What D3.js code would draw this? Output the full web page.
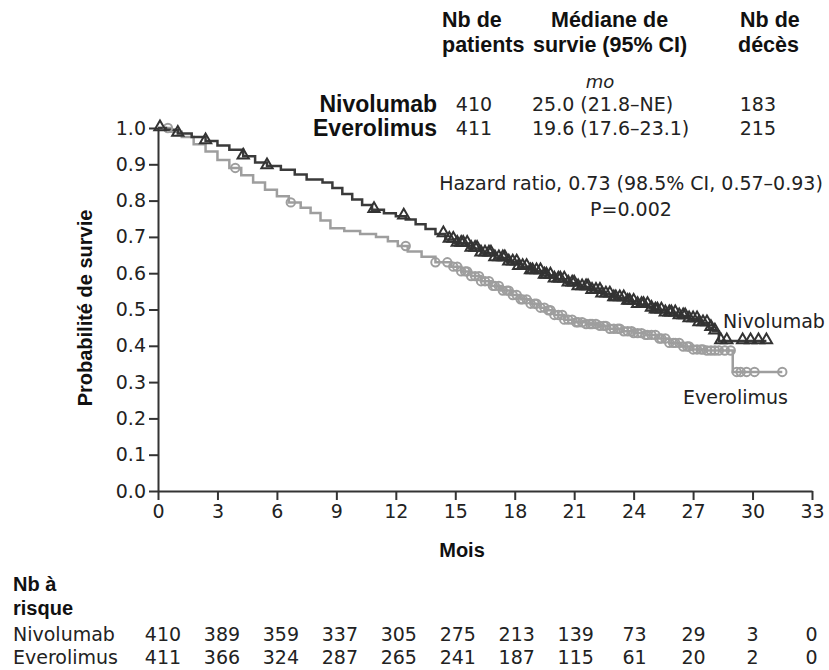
<!DOCTYPE html>
<html>
<head>
<meta charset="utf-8">
<title></title>
<script src="https://d3js.org/d3.v7.min.js"></script>
<style type="text/css">
  body {margin: 0; background: #fff;}
  .reg {font-family: "DejaVu Sans", sans-serif; fill: #222;}
  .bold {font-family: "Liberation Sans", Arial, sans-serif; font-weight: bold; fill: #111;}
  .axis path, .axis line {stroke: #333; stroke-width: 2px;}
  .axis text {font-family: "DejaVu Sans", sans-serif; font-size: 19px; fill: #222;}
</style>
</head>
<body>
<div id="chart"></div>
<script>
// Kaplan-Meier steps (months, survival)
var nivoTime = [0, 0.4, 1.0, 1.7, 2.4, 3.0, 3.6, 4.3, 4.9, 5.5, 6.2, 6.9, 7.5, 8.3, 8.8, 9.3, 9.8, 10.3, 10.8, 11.4,
                12.0, 12.5, 13.0, 13.5, 14.0, 14.5, 15.0, 15.7, 16.3, 17.0, 17.6, 18.2, 18.8, 19.4, 20.0, 20.6,
                21.2, 21.8, 22.4, 23.0, 23.6, 24.2, 24.8, 25.0, 25.6, 26.2, 26.8, 27.3, 27.8, 28.0, 28.3, 30.7];
var nivoSurv = [1.0, 0.995, 0.985, 0.975, 0.964, 0.952, 0.94, 0.922, 0.905, 0.895, 0.885, 0.872, 0.858, 0.85, 0.835,
                0.818, 0.803, 0.788, 0.775, 0.765, 0.757, 0.748, 0.735, 0.722, 0.708, 0.693, 0.682, 0.668, 0.655,
                0.642, 0.63, 0.618, 0.606, 0.594, 0.583, 0.572, 0.562, 0.552, 0.542, 0.532, 0.522, 0.513, 0.503,
                0.498, 0.49, 0.482, 0.474, 0.463, 0.45, 0.44, 0.413, 0.413];
var everoTime = [0, 0.6, 1.2, 1.8, 2.4, 3.0, 3.6, 4.2, 4.8, 5.4, 6.0, 6.6, 7.2, 7.7, 8.2, 8.7, 9.4, 10.2, 11.0, 11.6,
                 12.1, 12.6, 13.3, 14.0, 14.8, 15.3, 15.8, 16.3, 16.8, 17.3, 17.8, 18.3, 18.8, 19.3, 19.6, 20.0,
                 20.5, 21.0, 21.6, 22.2, 22.8, 23.4, 24.0, 24.6, 25.2, 25.8, 26.4, 27.0, 27.6, 29.0, 31.5];
var everoSurv = [1.0, 0.99, 0.975, 0.955, 0.935, 0.912, 0.89, 0.87, 0.85, 0.83, 0.812, 0.795, 0.78, 0.766, 0.745,
                 0.724, 0.716, 0.708, 0.70, 0.688, 0.675, 0.66, 0.645, 0.63, 0.618, 0.605, 0.592, 0.578, 0.565,
                 0.552, 0.54, 0.528, 0.516, 0.505, 0.498, 0.485, 0.472, 0.465, 0.46, 0.455, 0.447, 0.44, 0.435,
                 0.43, 0.42, 0.408, 0.398, 0.39, 0.387, 0.328, 0.328];
// censoring marks (months)
var nivoCensor = [0.1, 1.0, 2.4, 4.3, 5.5, 10.9, 12.4, 14.4, 14.7, 14.9, 15.1, 15.3, 15.4, 15.6, 15.8, 16.0, 16.1,
                  16.3, 16.5, 16.7, 16.8, 17.0, 17.2, 17.4, 17.5, 17.7, 17.9, 18.1, 18.2, 18.4, 18.6, 18.8, 18.9,
                  19.1, 19.3, 19.5, 19.6, 19.8, 20.0, 20.2, 20.3, 20.5, 20.7, 20.9, 21.0, 21.2, 21.4, 21.6, 21.7,
                  21.9, 22.1, 22.3, 22.4, 22.6, 22.8, 23.0, 23.1, 23.3, 23.5, 23.7, 23.8, 24.0, 24.2, 24.4, 24.5,
                  24.7, 24.9, 25.1, 25.2, 25.4, 25.6, 25.8, 25.9, 26.1, 26.3, 26.5, 26.6, 26.8, 27.0, 27.2, 27.3,
                  27.5, 27.7, 27.9, 28.1, 28.4, 28.7, 29.5, 29.9, 30.3, 30.7];
var everoCensor = [0.5, 3.9, 6.7, 12.5, 14.0, 14.6, 14.9, 15.1, 15.3, 15.5, 15.6, 15.8, 16.0, 16.2, 16.3, 16.5,
                   16.7, 16.9, 17.0, 17.2, 17.4, 17.6, 17.7, 17.9, 18.1, 18.3, 18.4, 18.6, 18.8, 19.0, 19.1, 19.3,
                   19.5, 19.7, 19.8, 20.0, 20.2, 20.4, 20.5, 20.7, 20.9, 21.1, 21.2, 21.4, 21.6, 21.8, 21.9, 22.1,
                   22.3, 22.5, 22.6, 22.8, 23.0, 23.2, 23.3, 23.5, 23.7, 23.9, 24.0, 24.2, 24.4, 24.6, 24.7, 24.9,
                   25.1, 25.3, 25.4, 25.6, 25.8, 26.0, 26.1, 26.3, 26.5, 26.7, 26.8, 27.0, 27.2, 27.4, 27.5, 27.7,
                   27.9, 28.1, 28.3, 28.6, 28.9, 29.2, 29.4, 29.7, 30.1, 31.5];
// number at risk
var riskMonths = [0, 3, 6, 9, 12, 15, 18, 21, 24, 27, 30, 33];
var nivoRisk = [410, 389, 359, 337, 305, 275, 213, 139, 73, 29, 3, 0];
var everoRisk = [411, 366, 324, 287, 265, 241, 187, 115, 61, 20, 2, 0];
var xTicks = [0, 3, 6, 9, 12, 15, 18, 21, 24, 27, 30, 33];
var yTicks = [0, 0.1, 0.2, 0.3, 0.4, 0.5, 0.6, 0.7, 0.8, 0.9, 1.0];

var width = 829, height = 670;
var svg = d3.select("#chart").append("svg")
  .attr("width", width)
  .attr("height", height);

var x = d3.scaleLinear().domain([0, 33]).range([158, 812]);
var y = d3.scaleLinear().domain([0, 1]).range([491, 128]);

// axes
svg.append("g")
  .attr("class", "axis")
  .attr("transform", "translate(0," + y(0) + ")")
  .call(d3.axisBottom(x).tickValues(xTicks).tickSize(9).tickSizeOuter(0).tickPadding(5));
svg.append("g")
  .attr("class", "axis")
  .attr("transform", "translate(" + x(0) + ",0)")
  .call(d3.axisLeft(y).tickValues(yTicks).tickFormat(d3.format(".1f")).tickSize(9).tickSizeOuter(0).tickPadding(3));

function stepAt(times, surv, t) {
  var i = d3.bisectRight(times, t) - 1;
  return surv[Math.max(0, i)];
}

function drawCurve(times, surv, color) {
  var pts = times.map(function(t, i) { return [t, surv[i]]; });
  svg.append("path")
    .datum(pts)
    .attr("fill", "none")
    .attr("stroke", color)
    .attr("stroke-width", 2.5)
    .attr("d", d3.line()
      .curve(d3.curveStepAfter)
      .x(function(d) { return x(d[0]); })
      .y(function(d) { return y(d[1]); }));
}

drawCurve(everoTime, everoSurv, "#9e9e9e");
drawCurve(nivoTime, nivoSurv, "#3a3a3a");

// everolimus censoring: open circles
svg.append("g")
  .selectAll("circle")
  .data(everoCensor)
  .enter()
  .append("circle")
    .attr("cx", function(d) { return x(d); })
    .attr("cy", function(d) { return y(stepAt(everoTime, everoSurv, d)); })
    .attr("r", 4.2)
    .attr("fill", "none")
    .attr("stroke", "#9e9e9e")
    .attr("stroke-width", 2);

// nivolumab censoring: triangles
svg.append("g")
  .selectAll("path")
  .data(nivoCensor)
  .enter()
  .append("path")
    .attr("d", d3.symbol().type(d3.symbolTriangle).size(55))
    .attr("transform", function(d) {
      return "translate(" + x(d) + "," + (y(stepAt(nivoTime, nivoSurv, d)) - 1) + ")";
    })
    .attr("fill", "none")
    .attr("stroke", "#333")
    .attr("stroke-width", 2);

// curve labels
svg.append("text").attr("class", "reg").attr("x", 723).attr("y", 321)
  .attr("dominant-baseline", "central").style("font-size", "19px").text("Nivolumab");
svg.append("text").attr("class", "reg").attr("x", 683).attr("y", 397)
  .attr("dominant-baseline", "central").style("font-size", "19px").text("Everolimus");

// axis titles
svg.append("text").attr("class", "bold")
  .attr("transform", "translate(85,308) rotate(-90)")
  .attr("text-anchor", "middle").attr("dominant-baseline", "central")
  .style("font-size", "20px").text("Probabilité de survie");
svg.append("text").attr("class", "bold")
  .attr("x", 462).attr("y", 550).attr("text-anchor", "middle").attr("dominant-baseline", "central")
  .style("font-size", "20px").text("Mois");

// header table
var headTop = [["Nb de", "patients", 442, 442], ["Médiane de", "survie (95% CI)", 551, 533], ["Nb de", "décès", 740, 738]];
headTop.forEach(function(h) {
  svg.append("text").attr("class", "bold").attr("x", h[2]).attr("y", 20)
    .attr("dominant-baseline", "central").style("font-size", "21.5px").text(h[0]);
  svg.append("text").attr("class", "bold").attr("x", h[3]).attr("y", 45)
    .attr("dominant-baseline", "central").style("font-size", "21.5px").text(h[1]);
});
svg.append("text").attr("class", "reg").attr("x", 600).attr("y", 81)
  .attr("text-anchor", "middle").attr("dominant-baseline", "central")
  .style("font-size", "18px").style("font-style", "italic").text("mo");

var groups = ["Nivolumab", "Everolimus"];
var nPatients = [410, 411];
var medians = ["25.0 (21.8–NE)", "19.6 (17.6–23.1)"];
var deaths = [183, 215];
groups.forEach(function(g, i) {
  var yy = 104 + i * 24;
  svg.append("text").attr("class", "bold").attr("x", 437).attr("y", yy)
    .attr("text-anchor", "end").attr("dominant-baseline", "central").style("font-size", "23px").text(g);
  svg.append("text").attr("class", "reg").attr("x", 474).attr("y", yy)
    .attr("text-anchor", "middle").attr("dominant-baseline", "central").style("font-size", "19px").text(nPatients[i]);
  svg.append("text").attr("class", "reg").attr("x", 532).attr("y", yy)
    .attr("dominant-baseline", "central").style("font-size", "19px").text(medians[i]);
  svg.append("text").attr("class", "reg").attr("x", 776).attr("y", yy)
    .attr("text-anchor", "end").attr("dominant-baseline", "central").style("font-size", "19px").text(deaths[i]);
});

svg.append("text").attr("class", "reg").attr("x", 631).attr("y", 183)
  .attr("text-anchor", "middle").attr("dominant-baseline", "central").style("font-size", "19px")
  .text("Hazard ratio, 0.73 (98.5% CI, 0.57–0.93)");
svg.append("text").attr("class", "reg").attr("x", 631).attr("y", 209)
  .attr("text-anchor", "middle").attr("dominant-baseline", "central").style("font-size", "19px")
  .text("P=0.002");

// number at risk table
svg.append("text").attr("class", "bold").attr("x", 13).attr("y", 584)
  .attr("dominant-baseline", "central").style("font-size", "20px").text("Nb à");
svg.append("text").attr("class", "bold").attr("x", 13).attr("y", 608)
  .attr("dominant-baseline", "central").style("font-size", "20px").text("risque");

var riskRows = [nivoRisk, everoRisk];
riskRows.forEach(function(row, i) {
  var yy = 634 + i * 23;
  svg.append("text").attr("class", "reg").attr("x", 13).attr("y", yy)
    .attr("dominant-baseline", "central").style("font-size", "19px").text(groups[i]);
  svg.append("g")
    .selectAll("text")
    .data(row)
    .enter()
    .append("text")
      .attr("class", "reg")
      .attr("x", function(d, j) { return x(riskMonths[j]) + 5 - j * 0.5; })
      .attr("y", yy)
      .attr("text-anchor", "middle")
      .attr("dominant-baseline", "central")
      .style("font-size", "19px")
      .text(function(d) { return d; });
});
</script>
</body>
</html>
